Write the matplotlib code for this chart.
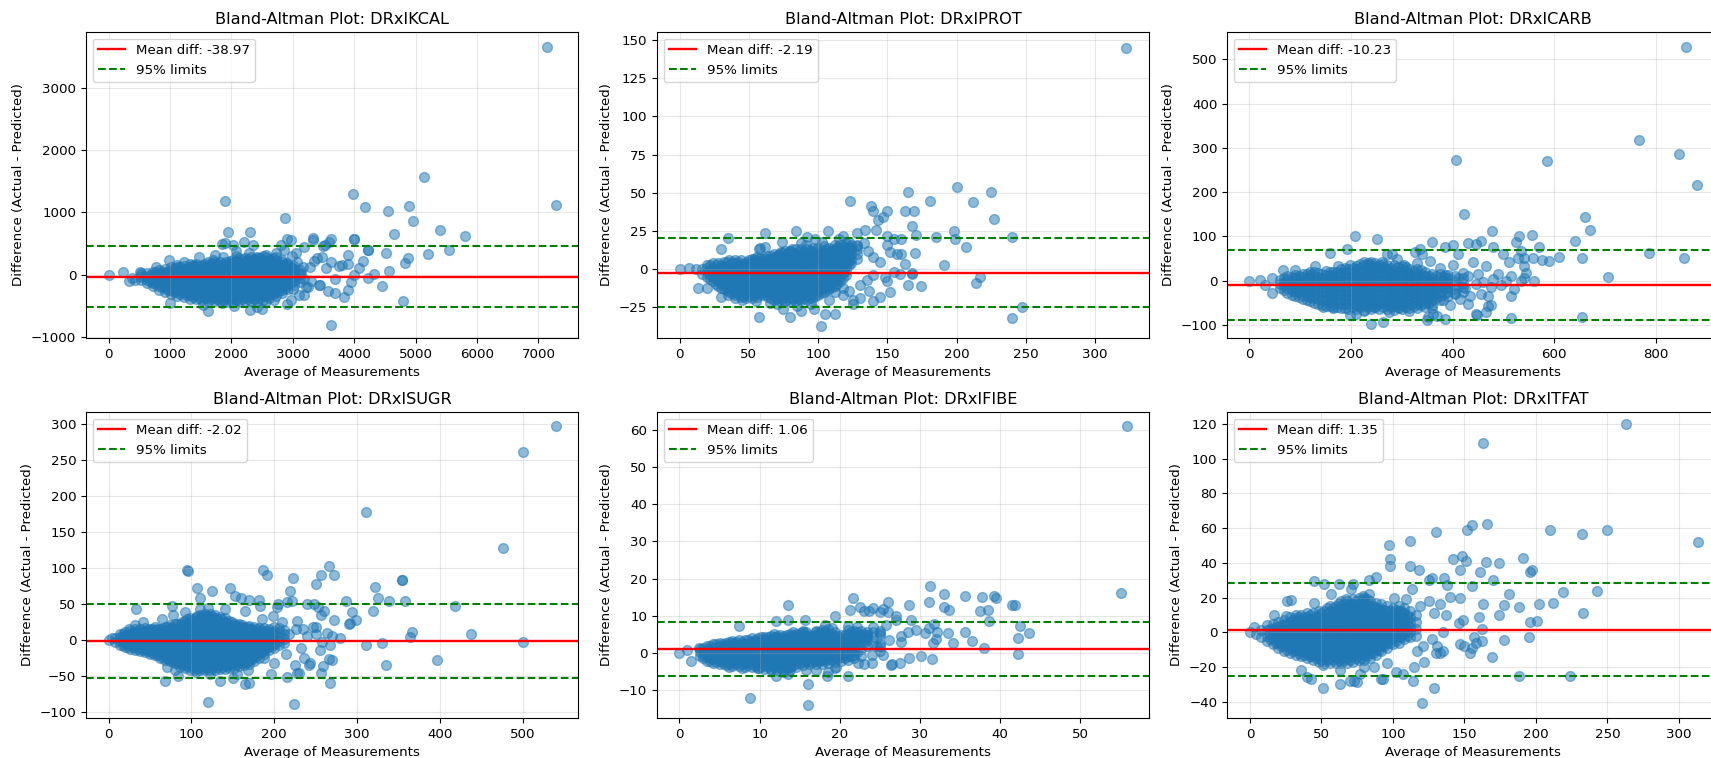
import numpy as np
import matplotlib
matplotlib.use("Agg")
from matplotlib import pyplot as plt

# values, the dense middle of each cloud is only estimated
titles = ["DRxIKCAL", "DRxIPROT", "DRxICARB", "DRxISUGR", "DRxIFIBE", "DRxITFAT"]
mean_diffs = [-38.97, -2.19, -10.23, -2.02, 1.06, 1.35]
upper_limits = [462, 20.7, 68.5, 49, 8.4, 28.5]
lower_limits = [-528, -25.0, -89, -53, -6.1, -25]

kcal_points = [
    (0,0),(240,50),(7140,3650),(7280,1115),(1900,1180),(1940,690),(2300,680),(2870,910),(3980,1290),(4180,1085),
    (4550,1020),(4890,1100),(4950,860),(5130,1570),(4650,650),(5390,710),(5810,620),(5540,400),(5200,335),(4520,350),
    (4870,270),(4830,180),(4560,55),(4330,10),(4220,-50),(4000,0),(3950,-120),(4450,-180),(3900,-240),(3840,-360),
    (4800,-420),(3620,-805),(3680,-290),(3580,-270),(3680,-70),(3450,-160),(3430,-160),(3990,570),(4000,575),(4220,395),
    (4230,395),(3900,310),(4140,220),(4080,110),(3900,170),(3800,150),(3760,140),(3620,580),(3330,590),(3330,560),
    (2970,550),(2900,570),(2810,480),(3590,530),(3530,480),(3500,460),(3620,200),(3540,100),(3480,280),(3400,270),
    (3350,220),(3280,130),(3300,-100),(1620,-590),(2300,-570),(2500,-560),(2420,-520),(2040,-500),(1000,-450),(1850,-460),
    (2900,-470),(2970,-400),(1530,-480),(510,50),(530,30),(430,-80),(340,-110),(380,-60),(980,240),(770,130),
    (1230,200),(1480,280),(1730,320),(1850,500),(1890,510),(2020,470),(2200,520),(2350,470),(2080,380),(2850,400),
    (3050,350),(3180,440),(3240,-200),(3100,-330),(3000,-230),(3180,-320),(2700,-400),(2560,-430),
    (2620,80),(2660,190),(2720,350),(2780,130),(2820,240),(2900,180),(2980,300),(3010,90),(3070,200),(3130,30),(3160,120),
    (3190,-70),(3220,-200),(2440,260),(2560,320),(2280,340),(2080,300),(1860,280),(1700,230),(1380,150),(1110,120),
]
kcal_core = [
    (520,[-85,-40,-5]),(620,[-130,-85,-30,20]),(720,[-190,-130,-70,-10,45]),(820,[-240,-175,-120,-55,10,70]),
    (920,[-280,-210,-150,-95,-30,30,95]),(1020,[-310,-245,-180,-115,-60,5,65,125]),(1120,[-345,-280,-220,-150,-90,-25,40,100,150]),
    (1220,[-365,-300,-240,-175,-110,-50,15,75,140]),(1320,[-390,-320,-255,-195,-130,-70,-5,55,115,165]),
    (1420,[-395,-335,-270,-205,-145,-80,-20,45,105,170]),(1520,[-405,-340,-280,-215,-150,-90,-30,35,95,160]),
    (1620,[-420,-350,-285,-225,-160,-95,-35,25,90,155,200]),(1720,[-425,-360,-295,-230,-170,-105,-40,20,85,150,195]),
    (1820,[-430,-365,-300,-240,-175,-110,-45,15,80,145,205]),(1920,[-435,-370,-305,-240,-180,-115,-50,10,75,140,200]),
    (2020,[-440,-375,-310,-245,-185,-120,-55,10,75,135,195,240]),(2120,[-430,-365,-305,-240,-180,-115,-50,15,80,140,205,260]),
    (2220,[-425,-365,-300,-235,-170,-110,-45,20,85,150,210,270]),(2320,[-420,-355,-290,-230,-165,-100,-40,25,90,155,220,280]),
    (2420,[-420,-350,-290,-225,-160,-95,-30,30,95,160,225,285]),(2520,[-400,-335,-270,-210,-145,-80,-20,45,110,175,240,300]),
    (2620,[-375,-310,-250,-185,-125,-60,5,70,130,195,255]),(2720,[-340,-280,-215,-150,-90,-25,35,100,165,230,290]),
    (2820,[-300,-240,-175,-115,-50,15,75,140,205]),(2920,[-230,-170,-105,-40,25,90,150]),(3020,[-170,-110,-45,20,85,145]),
    (3120,[-120,-60,5,70]),
    (670,[-105,-55,0]),(770,[-150,-90,-25,35]),(870,[-205,-145,-85,-20,45]),(970,[-250,-185,-125,-60,0,60]),(1070,[-280,-215,-150,-85,-25,35,95]),
    (1170,[-310,-250,-185,-120,-60,5,70,125]),(1270,[-335,-270,-205,-145,-80,-15,45,105]),(1370,[-360,-295,-235,-170,-105,-40,20,85,140]),
    (1470,[-370,-305,-245,-180,-115,-50,10,70,135]),(1570,[-380,-315,-250,-190,-125,-60,0,60,125,175]),(1670,[-390,-325,-260,-195,-135,-70,-5,55,120,175]),
    (1770,[-395,-330,-265,-205,-140,-75,-10,50,115,175]),(1870,[-400,-335,-270,-210,-145,-80,-15,45,110,170]),(1970,[-405,-340,-275,-215,-150,-85,-25,40,105,170,220]),
    (2070,[-405,-340,-275,-215,-150,-85,-20,45,105,170,225]),(2170,[-395,-335,-270,-205,-140,-80,-15,50,110,175,235]),(2270,[-390,-330,-265,-200,-135,-75,-10,55,120,185,245]),
    (2370,[-385,-320,-260,-195,-130,-65,0,60,125,190,250]),(2470,[-375,-310,-245,-180,-120,-55,10,70,135,200,265]),(2570,[-345,-285,-220,-155,-90,-30,35,100,165,225,280]),
    (2670,[-310,-245,-185,-120,-55,5,70,135,195,260]),(2770,[-270,-205,-145,-80,-20,45,110,170]),(2870,[-210,-145,-80,-15,50,115,175]),(2970,[-140,-75,-10,55,120]),
]

prot_points = [
    (322,145),(123,45),(200,54),(165,50.5),(225,50.5),(181,44.5),(212,44),(138,41.5),(140,38),(150,38),
    (147,34.5),(143,32.5),(163,38),(169,38),(227,33),(168,28),(134,26),(142,26),(84,25),(62,23.5),
    (107,25),(198,25),(171,22.5),(185,21),(240,21),(199,20),(35,20.5),(74,18),(30,13.5),(57,13.5),
    (58,14),(62,14.5),(207,14.5),(160,20),(170,10.5),(191,3),(163,3.5),(168,-2.5),(168,-3),(159,-3),
    (217,-5),(214,-9),(165,-10.5),(174,-11),(152,-15),(247,-24.5),(240,-32),(57,-31),(80,-31.5),(105,-29.5),
    (112,-29),(102,-37),(88,-27),(97,-26),(75,-26),(140,-21),(125,-23),(130,-19),(55,-21),(13,-12),
    (20,-12),(0,0),(7,1),(12,0),(30,-18),(145,-18),(150,-8),(148,-5),(155,-2),(150,22),(155,20),(128,24),(118,22),
    (122,18),(128,15),(133,17),(136,12),(140,8),(145,5),(150,16),(152,11),(157,10),(160,10),(140,-4),(135,-7),(137,-14),(130,-10),(122,-14),
    (118,-12),(112,-15),(108,-20),(92,21),(98,20),(88,17),(80,12),(70,9),(65,7),(60,5),
    (115,20),(103,18),(91,16),(81,13),(73,11),(125,-20),(118,-17),(95,-23),(85,-24),(70,-23),(65,-22),(45,-20),(40,-19),(35,-17),
]
prot_core = [
    (16,[-3,0]),(20,[-5,-2,1,3]),(24,[-8,-5,-2,1,4]),(28,[-11,-8,-5,-2,1,4]),(32,[-13,-10,-7,-4,-1,2,5]),
    (36,[-15,-12,-9,-6,-3,0,3,6]),(40,[-17,-14,-11,-8,-5,-2,1,4,6]),(44,[-18,-15,-12,-9,-6,-3,0,3,6]),
    (48,[-19,-16,-13,-10,-7,-4,-1,2,5]),(52,[-19,-16,-13,-10,-7,-4,-1,2,5,7]),(56,[-18,-15,-12,-9,-6,-3,0,3,6,8]),
    (60,[-17,-14,-11,-8,-5,-2,1,4,7]),(64,[-18,-15,-12,-9,-6,-3,0,3,6,9]),(68,[-20,-17,-14,-11,-8,-5,-2,1,4,7,10]),
    (72,[-20,-17,-14,-11,-8,-5,-2,1,4,7,10]),(76,[-21,-18,-15,-12,-9,-6,-3,0,3,6,9,12]),(80,[-21,-18,-15,-12,-9,-6,-3,0,3,6,9,12]),
    (84,[-21,-18,-15,-12,-9,-6,-3,0,3,6,9,13]),(88,[-20,-17,-14,-11,-8,-5,-2,1,4,7,10,13]),(92,[-20,-17,-14,-11,-8,-5,-2,1,4,7,10,13]),
    (96,[-19,-16,-13,-10,-7,-4,-1,2,5,8,11,14]),(100,[-17,-14,-11,-8,-5,-2,1,4,7,10,14]),(104,[-15,-12,-9,-6,-3,0,3,6,9,12,15]),
    (108,[-13,-10,-7,-4,-1,2,5,8,11,14]),(112,[-11,-8,-5,-2,1,4,7,10,13,16]),(116,[-8,-5,-2,1,4,7,10,13,16]),
    (120,[-4,-1,2,5,8,11,14,17]),(124,[4,7,10,13,16]),(128,[7,10,13,16]),
    (22,[-6.5,-3.5,-0.5,2.5]),(26,[-9.5,-6.5,-3.5,-0.5,2.5]),(30,[-12,-9,-6,-3,0,3]),(34,[-13.5,-10.5,-7.5,-4.5,-1.5,1.5,4.5]),(38,[-15.5,-12.5,-9.5,-6.5,-3.5,-0.5,2.5,5]),
    (42,[-16.5,-13.5,-10.5,-7.5,-4.5,-1.5,1.5,4.5]),(46,[-17.5,-14.5,-11.5,-8.5,-5.5,-2.5,0.5,3.5]),(50,[-17.5,-14.5,-11.5,-8.5,-5.5,-2.5,0.5,3.5,6]),
    (54,[-17,-14,-11,-8,-5,-2,1,4,7]),(58,[-16.5,-13.5,-10.5,-7.5,-4.5,-1.5,1.5,4.5,7.5]),(62,[-16.5,-13.5,-10.5,-7.5,-4.5,-1.5,1.5,4.5,7.5]),
    (66,[-18.5,-15.5,-12.5,-9.5,-6.5,-3.5,-0.5,2.5,5.5,8.5]),(70,[-18.5,-15.5,-12.5,-9.5,-6.5,-3.5,-0.5,2.5,5.5,8.5]),(74,[-19.5,-16.5,-13.5,-10.5,-7.5,-4.5,-1.5,1.5,4.5,7.5,10.5]),
    (78,[-19.5,-16.5,-13.5,-10.5,-7.5,-4.5,-1.5,1.5,4.5,7.5,10.5]),(82,[-19.5,-16.5,-13.5,-10.5,-7.5,-4.5,-1.5,1.5,4.5,7.5,10.5]),(86,[-19.5,-16.5,-13.5,-10.5,-7.5,-4.5,-1.5,1.5,4.5,7.5,11.5]),
    (90,[-18.5,-15.5,-12.5,-9.5,-6.5,-3.5,-0.5,2.5,5.5,8.5,11.5]),(94,[-18.5,-15.5,-12.5,-9.5,-6.5,-3.5,-0.5,2.5,5.5,8.5,12.5]),(98,[-17.5,-14.5,-11.5,-8.5,-5.5,-2.5,0.5,3.5,6.5,9.5,12.5]),
    (102,[-15.5,-12.5,-9.5,-6.5,-3.5,-0.5,2.5,5.5,8.5,11.5]),(106,[-13.5,-10.5,-7.5,-4.5,-1.5,1.5,4.5,7.5,10.5,13.5]),(110,[-11.5,-8.5,-5.5,-2.5,0.5,3.5,6.5,9.5,12.5]),
    (114,[-9.5,-6.5,-3.5,-0.5,2.5,5.5,8.5,11.5,14.5]),(118,[-5.5,-2.5,0.5,3.5,6.5,9.5,12.5,15.5]),(122,[2.5,5.5,8.5,11.5,14.5]),
]

carb_points = [
    (860,527),(767,318),(846,287),(880,216),(407,272),(585,270),(423,150),(660,143),(670,115),(477,113),
    (556,104),(531,100),(640,90),(360,86),(208,100),(252,93),(193,72),(158,62),(430,85),(455,90),
    (445,82),(525,88),(570,75),(534,67),(786,63),(856,50),(654,52),(610,53),(590,45),(575,47),
    (558,50),(540,52),(528,52),(500,60),(510,42),(706,9),(560,-2),(540,5),(535,0),(545,18),
    (540,33),(515,10),(515,-35),(520,-20),(515,-85),(655,-82),(445,-75),(447,-78),(465,-72),(475,-55),
    (470,-58),(430,-52),(385,-88),(370,-80),(350,-90),(352,-82),(362,-75),(240,-98),(262,-93),(198,-77),
    (210,-75),(0,0),(20,2),(45,5),(30,-10),(45,-28),(67,24),(90,24),(130,32),(175,33),(198,35),
    (400,80),(385,75),(480,75),(410,60),(325,65),(335,72),(340,60),(270,60),(280,60),(250,30),
    (375,28),(380,-45),(385,12),(390,-12),(395,-55),(400,35),(405,-28),(410,5),(415,-42),(420,18),
    (425,-18),(430,10),(435,-35),(440,42),(445,-8),(450,15),(455,-30),(460,-3),(465,32),(470,-35),
    (475,-15),(480,3),(490,15),(495,-10),(505,-2),(355,45),(330,40),(305,35),(290,48),(260,42),(235,38),
    (275,-72),(225,-68),(165,-62),(145,-60),(315,-70),(295,-62),(245,-60),(360,-62),
]
carb_core = [
    (60,[-18,-8,2]),(75,[-28,-18,-8,2,10]),(90,[-35,-25,-15,-5,5,12]),(105,[-42,-32,-22,-12,-2,8,15]),
    (120,[-47,-37,-27,-17,-7,3,13,20]),(135,[-52,-42,-32,-22,-12,-2,8,18]),(150,[-57,-47,-37,-27,-17,-7,3,13,22]),
    (165,[-60,-50,-40,-30,-20,-10,0,10,20]),(180,[-62,-52,-42,-32,-22,-12,-2,8,18,26]),(195,[-64,-54,-44,-34,-24,-14,-4,6,16,26]),
    (210,[-65,-55,-45,-35,-25,-15,-5,5,15,25,33]),(225,[-66,-56,-46,-36,-26,-16,-6,4,14,24,34,41]),(240,[-65,-55,-45,-35,-25,-15,-5,5,15,25,35,43]),
    (255,[-64,-54,-44,-34,-24,-14,-4,6,16,26,36]),(270,[-65,-55,-45,-35,-25,-15,-5,5,15,25,35]),(285,[-66,-56,-46,-36,-26,-16,-6,4,14,24,34]),
    (300,[-65,-55,-45,-35,-25,-15,-5,5,15,25,33]),(315,[-63,-53,-43,-33,-23,-13,-3,7,17,27]),(330,[-62,-52,-42,-32,-22,-12,-2,8,18,27]),
    (345,[-60,-50,-40,-30,-20,-10,0,10,20]),(360,[-55,-45,-35,-25,-15,-5,5,15]),(375,[-45,-35,-25,-15,-5,5,14]),
    (390,[-35,-25,-15,-5,5,13]),(405,[-30,-20,-10,0,10]),(420,[-25,-15,-5,5]),
    (68,[-22,-13,-3,6]),(83,[-32,-21,-11,-1,8]),(98,[-38,-28,-18,-8,2,10]),(113,[-44,-34,-24,-14,-4,6,14]),(128,[-50,-40,-30,-20,-10,0,10,19]),
    (143,[-55,-45,-35,-25,-15,-5,5,15]),(158,[-58,-48,-38,-28,-18,-8,2,12,20]),(173,[-60,-50,-40,-30,-20,-10,0,10,20]),(188,[-62,-52,-42,-32,-22,-12,-2,8,18,28]),
    (203,[-60,-50,-40,-30,-20,-10,0,10,20,29]),(218,[-61,-51,-41,-31,-21,-11,-1,9,19,29,38]),(233,[-60,-50,-40,-30,-20,-10,0,10,20,30,40]),(248,[-60,-50,-40,-30,-20,-10,0,10,20,31,40]),
    (263,[-60,-50,-40,-30,-20,-10,0,10,20,30,38]),(278,[-61,-51,-41,-31,-21,-11,-1,9,19,29]),(293,[-60,-50,-40,-30,-20,-10,0,10,20,30]),(308,[-59,-49,-39,-29,-19,-9,1,11,21,30]),
    (323,[-58,-48,-38,-28,-18,-8,2,12,22]),(338,[-56,-46,-36,-26,-16,-6,4,14,24]),(353,[-50,-40,-30,-20,-10,0,10]),(368,[-40,-30,-20,-10,0,10]),(383,[-30,-20,-10,0,8]),
]

sugr_points = [
    (540,297),(500,261),(311,177),(476,127),(95,97),(96,95),(187,96),(191,89),(223,85),(266,102),
    (257,89),(272,89),(251,77),(354,83),(355,82),(322,73),(107,72),(125,67),(147,72),(153,60),
    (110,58),(219,67),(326,58),(339,54),(287,54),(358,53),(419,46),(319,39),(294,38),(299,27),
    (290,22),(292,23),(272,27),(33,42),(77,46),(366,11),(364,4),(438,8),(500,-3),(311,-7),
    (330,-5),(397,-28),(335,-35),(268,-61),(120,-87),(224,-89),(68,-57),(84,-51),(134,-57),(150,-54),
    (165,-62),(170,-61),(196,-48),(215,-52),(228,-47),(230,-46),(256,-46),(225,-36),(243,-33),(242,-36),
    (259,-37),(266,-27),(270,-29),(280,2),(270,5),(264,9),(267,-8),(255,-15),(250,8),(258,-3),
    (247,17),(250,17),(260,39),(256,34),(253,45),(248,49),(240,50),(228,26),(235,15),(222,53),
    (215,52),(205,50),(204,45),(182,55),(183,47),(170,55),(160,57),(0,0),(4,2),(140,42),
    (165,40),(120,44),(110,42),(92,38),(78,34),(65,28),(42,24),(32,20),(25,14),(185,28),(198,32),(210,25),
    (226,15),(232,-12),(236,-25),(240,5),(218,8),(214,-20),(200,-32),(188,-25),(168,-42),(155,-48),(122,-48),(105,-45),(80,-42),(70,-38),
]
sugr_core = [
    (8,[-3,2]),(14,[-7,-2,3,7]),(20,[-10,-5,0,5,10]),(26,[-13,-8,-3,2,7,12]),(32,[-15,-10,-5,0,5,10,15]),
    (38,[-16,-11,-6,-1,4,9,14]),(44,[-18,-13,-8,-3,2,7,12,16]),(50,[-20,-15,-10,-5,0,5,10,15]),(56,[-22,-17,-12,-7,-2,3,8,13,17]),
    (62,[-25,-20,-15,-10,-5,0,5,10,15]),(68,[-28,-23,-18,-13,-8,-3,2,7,12,17]),(74,[-30,-25,-20,-15,-10,-5,0,5,10,15,20]),
    (80,[-33,-27,-21,-15,-9,-3,3,9,15,21]),(86,[-38,-32,-26,-20,-14,-8,-2,4,10,16,22]),(92,[-40,-34,-28,-22,-16,-10,-4,2,8,14,20,26]),
    (98,[-42,-36,-30,-24,-18,-12,-6,0,6,12,18,24,30]),(104,[-42,-36,-30,-24,-18,-12,-6,0,6,12,18,24,30]),
    (110,[-43,-37,-31,-25,-19,-13,-7,-1,5,11,17,23,29,34]),(116,[-43,-37,-31,-25,-19,-13,-7,-1,5,11,17,23,29,35]),
    (122,[-42,-36,-30,-24,-18,-12,-6,0,6,12,18,24,30,36]),(128,[-42,-36,-30,-24,-18,-12,-6,0,6,12,18,24,30,34]),
    (134,[-41,-35,-29,-23,-17,-11,-5,1,7,13,19,25,31]),(140,[-41,-35,-29,-23,-17,-11,-5,1,7,13,19,25,30]),
    (146,[-40,-34,-28,-22,-16,-10,-4,2,8,14,20,26]),(152,[-39,-33,-27,-21,-15,-9,-3,3,9,15,21]),
    (158,[-37,-31,-25,-19,-13,-7,-1,5,11,17,22]),(164,[-36,-30,-24,-18,-12,-6,0,6,12,18]),(170,[-34,-28,-22,-16,-10,-4,2,8,14,19]),
    (176,[-30,-24,-18,-12,-6,0,6,12,17]),(182,[-25,-19,-13,-7,-1,5,11,16]),(188,[-20,-14,-8,-2,4,10,16]),(194,[-15,-9,-3,3,9,14]),
    (200,[-12,-6,0,6,12,18]),(206,[-8,-2,4,10,16]),(212,[-5,1,7,13]),
    (17,[-7,-2,3,8]),(23,[-10,-5,0,5]),(29,[-11,-6,-1,4,9]),(35,[-13,-8,-3,2,7,12]),(41,[-15,-10,-5,0,5,10]),(47,[-16,-11,-6,-1,4,9,13]),
    (53,[-19,-14,-9,-4,1,6,11,15]),(59,[-21,-16,-11,-6,-1,4,9,14]),(65,[-24,-19,-14,-9,-4,1,6,11,15]),(71,[-27,-22,-17,-12,-7,-2,3,8,13,18]),
    (77,[-30,-24,-18,-12,-6,0,6,12,18]),(83,[-33,-27,-21,-15,-9,-3,3,9,15,21]),(89,[-36,-30,-24,-18,-12,-6,0,6,12,18,24]),(95,[-37,-31,-25,-19,-13,-7,-1,5,11,17,23,28]),
    (101,[-39,-33,-27,-21,-15,-9,-3,3,9,15,21,27]),(107,[-40,-34,-28,-22,-16,-10,-4,2,8,14,20,26,32]),(113,[-40,-34,-28,-22,-16,-10,-4,2,8,14,20,26,32]),
    (119,[-39,-33,-27,-21,-15,-9,-3,3,9,15,21,27,33]),(125,[-39,-33,-27,-21,-15,-9,-3,3,9,15,21,27,33]),(131,[-38,-32,-26,-20,-14,-8,-2,4,10,16,22,28]),
    (137,[-38,-32,-26,-20,-14,-8,-2,4,10,16,22,28]),(143,[-37,-31,-25,-19,-13,-7,-1,5,11,17,23]),(149,[-36,-30,-24,-18,-12,-6,0,6,12,18,24]),
    (155,[-34,-28,-22,-16,-10,-4,2,8,14,20]),(161,[-33,-27,-21,-15,-9,-3,3,9,15,20]),(167,[-31,-25,-19,-13,-7,-1,5,11,17]),(173,[-27,-21,-15,-9,-3,3,9,15]),
    (179,[-22,-16,-10,-4,2,8,14]),(185,[-17,-11,-5,1,7,13]),(191,[-12,-6,0,6,12]),(197,[-9,-3,3,9]),
]

fibe_points = [
    (55.8,61),(55.1,16.2),(31.3,18),(33,15.8),(35.6,15.4),(37.8,15),(39.2,15.3),(39.5,14.8),(41.5,12.8),(41.9,13),
    (31.2,13.6),(26,13.6),(28.6,12.8),(21.6,14.7),(13.6,12.8),(21.3,11.5),(22.5,12.3),(23,11.2),(23.7,11.2),(24.2,12),
    (25,11),(25.4,11.8),(26,11),(27,10),(27,9),(33,12.3),(33.6,11.5),(37.5,11.3),(38.5,11.5),(38.6,8.7),
    (28.9,8.9),(19.4,10),(15.7,9),(13.5,9),(12,8.6),(7.4,7.3),(42.5,7.2),(43.6,5.4),(42.3,4),(36.5,3.3),
    (35.6,5.6),(34.2,2.8),(38,1.5),(42.3,-0.3),(33.5,5.3),(32.1,5.8),(31.8,7.7),(31.2,6.7),(30.6,5.3),(29.5,6.2),
    (28.5,5.8),(32,3.8),(31.6,2.8),(27.7,3),(27.6,4.5),(31.5,-1.6),(30.2,-0.8),(28.6,-1.4),(27.5,-2.7),(26.5,-3),
    (26.4,-3.3),(24,-2.7),(23,-3),(22.3,-2.7),(21,-6.1),(19.5,-3.7),(18.4,-6),(18.6,-5),(16,-8.2),(16,-13.8),
    (8.8,-12),(12,-6),(13.5,-5.7),(0,0),(0.9,0.8),(1.5,-2),(2.4,1.5),(18.2,7.6),(22.2,7),(24.2,7),(25.8,7.5),(21,7.4),(19,6.8),(17,6),
    (15.4,6),(14.2,5.8),(11.8,5.2),(26.2,3.5),(25.4,-0.6),(25,2.4),(24,-0.4),(23.4,5),(24.6,2),(25,5.5),(11.4,-4.6),(13,-5),(15.8,-4.5),(17,-4.5),(19.4,-4),(9.8,-4),(7.8,-3.9),(6.2,-3.8),
]
fibe_core = [
    (2.6,[-0.8,0.2,1]),(3.4,[-2,-1,0,1,2]),(4.2,[-2.6,-1.6,-0.6,0.4,1.4,2.4]),(5,[-3,-2,-1,0,1,2,2.8]),(5.8,[-3.2,-2.2,-1.2,-0.2,0.8,1.8,2.8]),
    (6.6,[-3.4,-2.4,-1.4,-0.4,0.6,1.6,2.6,3.2]),(7.4,[-3.5,-2.5,-1.5,-0.5,0.5,1.5,2.5,3.5]),(8.2,[-3.6,-2.6,-1.6,-0.6,0.4,1.4,2.4,3.4]),
    (9,[-3.8,-2.8,-1.8,-0.8,0.2,1.2,2.2,3.2,4]),(9.8,[-4,-3,-2,-1,0,1,2,3,4]),(10.6,[-4.2,-3.2,-2.2,-1.2,-0.2,0.8,1.8,2.8,3.8,4.4]),
    (11.4,[-4.3,-3.3,-2.3,-1.3,-0.3,0.7,1.7,2.7,3.7,4.5]),(12.2,[-4.4,-3.4,-2.4,-1.4,-0.4,0.6,1.6,2.6,3.6,4.6]),(13,[-4.5,-3.5,-2.5,-1.5,-0.5,0.5,1.5,2.5,3.5,4.5]),
    (13.8,[-4.6,-3.6,-2.6,-1.6,-0.6,0.4,1.4,2.4,3.4,4.4,5.2]),(14.6,[-3.8,-2.8,-1.8,-0.8,0.2,1.2,2.2,3.2,4.2,5.2]),(15.4,[-3.2,-2.2,-1.2,-0.2,0.8,1.8,2.8,3.8,4.8,5.6]),
    (16.2,[-3,-2,-1,0,1,2,3,4,5]),(17,[-3,-2,-1,0,1,2,3,4,5,5.8]),(17.8,[-2.8,-1.8,-0.8,0.2,1.2,2.2,3.2,4.2,5.2,6.2]),(18.6,[-2.6,-1.6,-0.6,0.4,1.4,2.4,3.4,4.4,5.4,6.4]),
    (19.4,[-2.4,-1.4,-0.4,0.6,1.6,2.6,3.6,4.6,5.6]),(20.2,[-2,-1,0,1,2,3,4,5]),(21,[-1.8,-0.8,0.2,1.2,2.2,3.2,4.2,5.2,6.2]),(21.8,[-1.4,-0.4,0.6,1.6,3,4,5,6]),
    (22.6,[-0.8,1,3,4,5,6]),(23.4,[2,3.4,4.6,5.8]),(25,[5,6,0.6,1.8]),
    (3,[-1.4,-0.4,0.6,1.4]),(3.8,[-2.2,-1.2,-0.2,0.8,1.8]),(4.6,[-2.4,-1.4,-0.4,0.6,1.6,2.4]),(5.4,[-2.6,-1.6,-0.6,0.4,1.4,2.4]),(6.2,[-2.8,-1.8,-0.8,0.2,1.2,2.2,3]),
    (7,[-2.8,-1.8,-0.8,0.2,1.2,2.2,3]),(7.8,[-3,-2,-1,0,1,2,3]),(8.6,[-3.2,-2.2,-1.2,-0.2,0.8,1.8,2.8,3.6]),(9.4,[-3.4,-2.4,-1.4,-0.4,0.6,1.6,2.6,3.6]),(10.2,[-3.6,-2.6,-1.6,-0.6,0.4,1.4,2.4,3.4,4.2]),
    (11,[-3.8,-2.8,-1.8,-0.8,0.2,1.2,2.2,3.2,4.2]),(11.8,[-3.8,-2.8,-1.8,-0.8,0.2,1.2,2.2,3.2,4.2]),(12.6,[-4,-3,-2,-1,0,1,2,3,4,4.8]),(13.4,[-4,-3,-2,-1,0,1,2,3,4,5]),
    (14.2,[-3.2,-2.2,-1.2,-0.2,0.8,1.8,2.8,3.8,4.8]),(15,[-2.6,-1.6,-0.6,0.4,1.4,2.4,3.4,4.4,5.4]),(15.8,[-2.4,-1.4,-0.4,0.6,1.6,2.6,3.6,4.6,5.6]),(16.6,[-2.4,-1.4,-0.4,0.6,1.6,2.6,3.6,4.6]),
    (17.4,[-2.2,-1.2,-0.2,0.8,1.8,2.8,3.8,4.8,5.8]),(18.2,[-2,-1,0,1,2,3,4,5,6]),(19,[-1.8,-0.8,0.2,1.2,2.2,3.2,4.2,5.2]),(19.8,[-1.4,-0.4,0.6,1.6,2.6,3.6,4.6]),(20.6,[-1.2,-0.2,0.8,1.8,2.8,3.8,4.8]),
    (21.4,[-0.8,0.2,1.2,2.4,3.6,4.6,5.6]),(22.2,[0.4,2.2,3.6,4.6,5.6]),(23,[2.6,4,5.2]),(24.2,[2.8,4.4,5.6]),
]

tfat_points = [
    (263,120),(163,109),(313,52),(130,57.5),(155,62),(152,59),(166,62.5),(210,59),(232,56.5),(250,59),
    (97,50),(112,52.5),(98,42),(98,38),(112,38),(118,36),(142,42),(148,44),(151,41),(147,36),
    (165,40.5),(174,40),(161,35),(191,43),(197,36),(196,34.5),(170,30),(155,26.5),(127,31),(125,30),
    (136,31),(138,27),(88,32),(83,30),(45,29.5),(52,28),(62,28),(72,28),(181,22),(219,23),
    (243,23.5),(140,20.5),(147,20),(163,16),(178,15.5),(188,14.5),(202,16),(212,17),(233,11),(174,10),
    (160,8.5),(149,7),(146,5.5),(196,6),(201,6.5),(162,2),(157,-2.5),(162,-5),(178,-4.5),(195,-3),
    (147,-7),(150,-8),(158,-6),(155,-9),(154,-12),(169,-14.5),(188,-25.5),(224,-25.5),(120,-41),(51,-32),
    (63,-30),(129,-32),(114,-28),(92,-27),(93,-27),(70,-28),(73,-28),(75,-28.5),(40,-26),(43,-27),
    (36,-22),(102,-23),(107,-24),(115,-20),(122,-17),(117,-11),(135,-11),(133,-12),(130,-12),(26,18),
    (29,18.5),(17,10),(25,9.5),(3,3),(4,-1),(0,0),(45,17),(57,22),(67,19),(71,25),(79,21),(83,22),(113,25),(109,19),(101,20),
    (119,15),(125,18),(129,11),(133,16),(137,10),(127,-4),(131,-8),(121,-8),(135,0),(96,-18),(87,-20),(80,-20),(77,-24),(63,-22),(51,-19),(43,-14),
]
tfat_core = [
    (8,[-3,1]),(12,[-5,-2,1,4]),(16,[-7,-4,-1,2,5]),(20,[-9,-6,-3,0,3,6]),(24,[-11,-8,-5,-2,1,4,7]),(28,[-12,-9,-6,-3,0,3,6,9]),
    (32,[-13,-10,-7,-4,-1,2,5,8,10]),(36,[-14,-11,-8,-5,-2,1,4,7,10]),(40,[-15,-12,-9,-6,-3,0,3,6,9,11]),(44,[-16,-13,-10,-7,-4,-1,2,5,8,11]),
    (48,[-17,-14,-11,-8,-5,-2,1,4,7,10,12]),(52,[-18,-15,-12,-9,-6,-3,0,3,6,9,12]),(56,[-18,-15,-12,-9,-6,-3,0,3,6,9,12,15]),
    (60,[-18,-15,-12,-9,-6,-3,0,3,6,9,12,15]),(64,[-18,-15,-12,-9,-6,-3,0,3,6,9,12,15,18]),(68,[-18,-15,-12,-9,-6,-3,0,3,6,9,12,15,18]),
    (72,[-17,-14,-11,-8,-5,-2,1,4,7,10,13,16,19]),(76,[-16,-13,-10,-7,-4,-1,2,5,8,11,14,17,20]),(80,[-16,-13,-10,-7,-4,-1,2,5,8,11,14,17,20]),
    (84,[-15,-12,-9,-6,-3,0,3,6,9,12,15,18]),(88,[-13,-10,-7,-4,-1,2,5,8,11,14,17]),(92,[-11,-8,-5,-2,1,4,7,10,13,16]),
    (96,[-9,-6,-3,0,3,6,9,12,15]),(100,[-7,-4,-1,2,5,8,11,14]),(104,[-6,-3,0,3,6,9,12,15]),(108,[-4,-1,2,5,8,11,14]),
    (112,[-3,0,3,6,9,12]),(116,[-2,2,6,10]),
    (14,[-4,-1,2]),(18,[-6,-3,0,3]),(22,[-8,-5,-2,1,4]),(26,[-10,-7,-4,-1,2,5]),(30,[-11,-8,-5,-2,1,4,7]),(34,[-12,-9,-6,-3,0,3,6,9]),
    (38,[-13,-10,-7,-4,-1,2,5,8]),(42,[-14,-11,-8,-5,-2,1,4,7,10]),(46,[-15,-12,-9,-6,-3,0,3,6,9]),(50,[-16,-13,-10,-7,-4,-1,2,5,8,11]),(54,[-16,-13,-10,-7,-4,-1,2,5,8,11,14]),
    (58,[-16,-13,-10,-7,-4,-1,2,5,8,11,14]),(62,[-16,-13,-10,-7,-4,-1,2,5,8,11,14,17]),(66,[-16,-13,-10,-7,-4,-1,2,5,8,11,14,17]),(70,[-16,-13,-10,-7,-4,-1,2,5,8,11,14,17]),
    (74,[-15,-12,-9,-6,-3,0,3,6,9,12,15,18]),(78,[-15,-12,-9,-6,-3,0,3,6,9,12,15,18]),(82,[-14,-11,-8,-5,-2,1,4,7,10,13,16,19]),(86,[-12,-9,-6,-3,0,3,6,9,12,15]),(90,[-10,-7,-4,-1,2,5,8,11,14]),
    (94,[-8,-5,-2,1,4,7,10,13]),(98,[-6,-3,0,3,6,9,12]),(102,[-5,-2,1,4,7,10,13]),(106,[-3,0,3,6,9,12]),(110,[-2,1,4,7,10]),
]

points = [kcal_points, prot_points, carb_points, sugr_points, fibe_points, tfat_points]
cores = [kcal_core, prot_core, carb_core, sugr_core, fibe_core, tfat_core]

x_limits = [(-368, 7645), (-16.3, 338.9), (-44, 924), (-27.3, 567), (-2.8, 58.6), (-16, 328)]
y_limits = [(-1018, 3898), (-45, 155.3), (-130, 562), (-109, 316), (-17.4, 64.7), (-49.5, 127)]

plt.rcParams["font.size"] = 9.65
plt.rcParams["axes.titlesize"] = 11.6

W, H = 1711, 758
lefts = [86, 657, 1227]
tops = [32, 412]
ax_w, ax_h = 492, 306

fig = plt.figure(figsize=(W / 100, H / 100), dpi=100)

for i in range(6):
    left = lefts[i % 3]
    top = tops[i // 3]
    ax = fig.add_axes([left / W, 1 - (top + ax_h) / H, ax_w / W, ax_h / H])

    xs = [p[0] for p in points[i]]
    ys = [p[1] for p in points[i]]
    for x, col in cores[i]:
        xs += [x] * len(col)
        ys += col

    ax.scatter(xs, ys, alpha=0.5, s=50)
    ax.axhline(mean_diffs[i], color="red", linestyle="-", linewidth=1.7, label=f"Mean diff: {mean_diffs[i]:.2f}")
    ax.axhline(upper_limits[i], color="green", linestyle="--", label="95% limits")
    ax.axhline(lower_limits[i], color="green", linestyle="--")

    ax.set_xlim(x_limits[i])
    ax.set_ylim(y_limits[i])
    ax.set_title(f"Bland-Altman Plot: {titles[i]}")
    ax.set_xlabel("Average of Measurements")
    ax.set_ylabel("Difference (Actual - Predicted)")
    ax.legend(loc="upper left")
    ax.grid(True, alpha=0.3)

fig.savefig("out.png", dpi=100)
